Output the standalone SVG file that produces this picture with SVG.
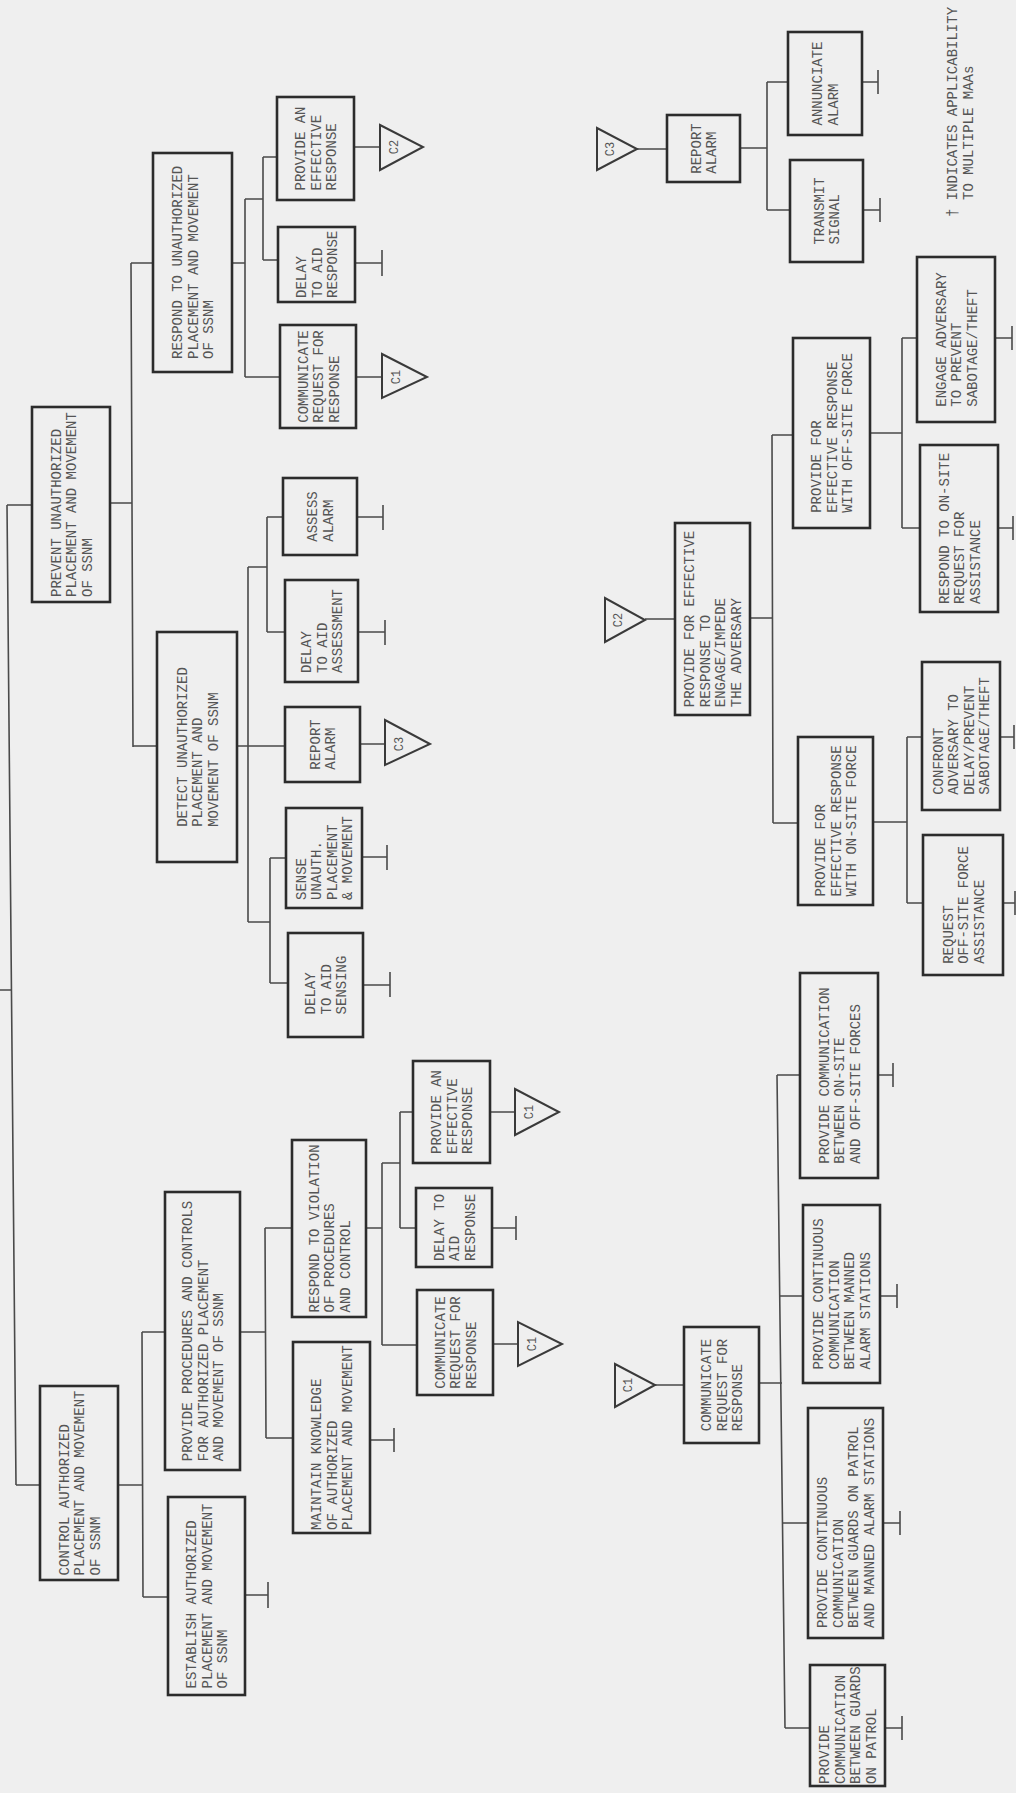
<svg xmlns="http://www.w3.org/2000/svg" width="1016" height="1793" viewBox="0 0 1016 1793">
<style>
.bg{fill:#efefef}
.box{fill:none;stroke:#2c2c2c;stroke-width:2.6}
.c{fill:none;stroke:#4a4a4a;stroke-width:1.6}
.tri{fill:none;stroke:#3a3a3a;stroke-width:2}
text{font-family:"Liberation Mono","DejaVu Sans Mono",monospace;font-size:14px;fill:#555}
.tl{font-size:12px;text-anchor:middle}
</style>
<rect class="bg" x="0" y="0" width="1016" height="1793"/>

<g id="connectors">
<!-- root and main trunk -->
<path class="c" d="M0,990 L11,990 M7,505 L16,1485 M7,505 L32,505 M16,1485 L40,1485"/>
<!-- PREVENT subtree -->
<path class="c" d="M110,503 L132,503 M131,263 L133,747 M131,263 L153,263 M133,746 L157,746"/>
<path class="c" d="M232,263 L245,263 M245,199 L245,377 M245,199 L263,199 M263,157 L263,260 M263,157 L277,157 M263,260 L278,260 M245,377 L280,377"/>
<path class="c" d="M354,147 L380,147 M355,263 L382,263 M382,250 L382,276 M356,377 L382,377"/>
<path class="c" d="M237,746 L285,746 M248,567 L248,922 M248,567 L267,567 M267,517 L267,632 M267,517 L283,517 M267,632 L285,632 M248,922 L270,922 M270,858 L270,983 M270,858 L286,858 M270,983 L288,983"/>
<path class="c" d="M357,517 L383,517 M383,505 L383,530 M358,632 L385,632 M385,620 L385,645 M360,744 L385,744 M362,857 L387,857 M387,845 L387,870 M363,985 L390,985 M390,972 L390,997"/>
<!-- CONTROL subtree -->
<path class="c" d="M118,1485 L143,1485 M142,1332 L143,1597 M142,1332 L165,1332 M143,1597 L168,1597 M245,1595 L268,1595 M268,1582 L268,1608"/>
<path class="c" d="M240,1332 L265,1332 M265,1228 L266,1438 M265,1228 L292,1228 M266,1438 L293,1438 M370,1440 L394,1440 M394,1428 L394,1452"/>
<path class="c" d="M366,1228 L382,1228 M382,1163 L382,1345 M382,1163 L400,1163 M400,1112 L400,1228 M400,1112 L413,1112 M400,1228 L416,1228 M382,1345 L417,1345"/>
<path class="c" d="M490,1112 L515,1112 M492,1228 L516,1228 M516,1216 L516,1240 M493,1344 L518,1344"/>
<!-- C3 -->
<path class="c" d="M637,149 L667,149 M740,148 L767,148 M767,82 L767,210 M767,82 L788,82 M767,210 L790,210 M862,82 L878,82 M878,70 L878,94 M863,210 L880,210 M880,198 L880,222"/>
<!-- C2 -->
<path class="c" d="M645,619 L675,619 M750,618 L773,618 M772,435 L773,823 M772,435 L793,435 M773,823 L798,823"/>
<path class="c" d="M870,433 L902,433 M902,338 L902,528 M902,338 L917,338 M902,528 L920,528 M995,338 L1012,338 M1012,326 L1012,350 M998,528 L1013,528 M1013,516 L1013,540"/>
<path class="c" d="M873,822 L907,822 M907,737 L907,903 M907,737 L922,737 M907,903 L923,903 M1000,737 L1014,737 M1014,725 L1014,749 M1003,903 L1015,903 M1015,891 L1015,915"/>
<!-- C1 -->
<path class="c" d="M655,1385 L684,1385 M759,1383 L782,1383 M777,1075 L785,1728 M777,1075 L800,1075 M780,1296 L803,1296 M782,1523 L808,1523 M785,1728 L810,1728"/>
<path class="c" d="M878,1075 L893,1075 M893,1063 L893,1087 M880,1296 L897,1296 M897,1284 L897,1308 M883,1523 L900,1523 M900,1511 L900,1535 M885,1728 L902,1728 M902,1716 L902,1740"/>
</g>

<g id="offpage-connectors">
<g id="c2-out"><polygon class="tri" points="380,125 380,170 423,147"/><text class="tl" transform="translate(398,147) rotate(-90)">C2</text></g>
<g id="c1-out-a"><polygon class="tri" points="382,354 382,398 427,377"/><text class="tl" transform="translate(400,377) rotate(-90)">C1</text></g>
<g id="c3-out"><polygon class="tri" points="385,720 385,765 430,744"/><text class="tl" transform="translate(403,744) rotate(-90)">C3</text></g>
<g id="c1-out-b"><polygon class="tri" points="515,1089 515,1135 559,1112"/><text class="tl" transform="translate(533,1112) rotate(-90)">C1</text></g>
<g id="c1-out-c"><polygon class="tri" points="518,1322 518,1366 562,1344"/><text class="tl" transform="translate(536,1344) rotate(-90)">C1</text></g>
<g id="c3-in"><polygon class="tri" points="597,128 597,170 637,149"/><text class="tl" transform="translate(614,149) rotate(-90)">C3</text></g>
<g id="c2-in"><polygon class="tri" points="605,598 605,642 645,620"/><text class="tl" transform="translate(622,620) rotate(-90)">C2</text></g>
<g id="c1-in"><polygon class="tri" points="615,1364 615,1407 655,1385"/><text class="tl" transform="translate(632,1385) rotate(-90)">C1</text></g>
</g>

<g id="n-prevent"><rect class="box" x="32" y="407" width="78" height="195"/>
<text transform="translate(60.5,597) rotate(-90)"><tspan x="0" y="0">PREVENT UNAUTHORIZED</tspan><tspan x="0" y="15.5">PLACEMENT AND MOVEMENT</tspan><tspan x="0" y="31">OF SSNM</tspan></text></g>

<g id="n-respond-unauth"><rect class="box" x="153" y="153" width="79" height="219"/>
<text transform="translate(182,359) rotate(-90)"><tspan x="0" y="0">RESPOND TO UNAUTHORIZED</tspan><tspan x="0" y="15.5">PLACEMENT AND MOVEMENT</tspan><tspan x="0" y="31">OF SSNM</tspan></text></g>

<g id="n-provide-eff-1"><rect class="box" x="277" y="97" width="77" height="103"/>
<text transform="translate(305,190.5) rotate(-90)"><tspan x="0" y="0">PROVIDE AN</tspan><tspan x="0" y="15.5">EFFECTIVE</tspan><tspan x="0" y="31">RESPONSE</tspan></text></g>

<g id="n-delay-resp-1"><rect class="box" x="278" y="227" width="77" height="75"/>
<text transform="translate(306,298) rotate(-90)"><tspan x="0" y="0">DELAY</tspan><tspan x="0" y="15.5">TO AID</tspan><tspan x="0" y="31">RESPONSE</tspan></text></g>

<g id="n-communicate-1"><rect class="box" x="280" y="325" width="76" height="103"/>
<text transform="translate(307.5,422.7) rotate(-90)"><tspan x="0" y="0">COMMUNICATE</tspan><tspan x="0" y="15.5">REQUEST FOR</tspan><tspan x="0" y="31">RESPONSE</tspan></text></g>

<g id="n-detect"><rect class="box" x="157" y="632" width="80" height="230"/>
<text transform="translate(186.5,826.8) rotate(-90)"><tspan x="0" y="0">DETECT UNAUTHORIZED</tspan><tspan x="0" y="15.5">PLACEMENT AND</tspan><tspan x="0" y="31">MOVEMENT OF SSNM</tspan></text></g>

<g id="n-assess"><rect class="box" x="283" y="478" width="74" height="77"/>
<text transform="translate(317.3,541.7) rotate(-90)"><tspan x="0" y="0">ASSESS</tspan><tspan x="0" y="15.5">ALARM</tspan></text></g>

<g id="n-delay-assess"><rect class="box" x="285" y="580" width="73" height="102"/>
<text transform="translate(311,673) rotate(-90)"><tspan x="0" y="0">DELAY</tspan><tspan x="0" y="15.5">TO AID</tspan><tspan x="0" y="31">ASSESSMENT</tspan></text></g>

<g id="n-report-1"><rect class="box" x="285" y="707" width="75" height="75"/>
<text transform="translate(319.8,769.7) rotate(-90)"><tspan x="0" y="0">REPORT</tspan><tspan x="0" y="15.5">ALARM</tspan></text></g>

<g id="n-sense"><rect class="box" x="286" y="808" width="76" height="100"/>
<text transform="translate(305.8,900) rotate(-90)"><tspan x="0" y="0">SENSE</tspan><tspan x="0" y="15.5">UNAUTH.</tspan><tspan x="0" y="31">PLACEMENT</tspan><tspan x="0" y="46.5">&amp; MOVEMENT</tspan></text></g>

<g id="n-delay-sensing"><rect class="box" x="288" y="933" width="75" height="104"/>
<text transform="translate(315,1014.4) rotate(-90)"><tspan x="0" y="0">DELAY</tspan><tspan x="0" y="15.5">TO AID</tspan><tspan x="0" y="31">SENSING</tspan></text></g>

<g id="n-control"><rect class="box" x="40" y="1386" width="78" height="194"/>
<text transform="translate(68.5,1575.4) rotate(-90)"><tspan x="0" y="0">CONTROL AUTHORIZED</tspan><tspan x="0" y="15.5">PLACEMENT AND MOVEMENT</tspan><tspan x="0" y="31">OF SSNM</tspan></text></g>

<g id="n-procedures"><rect class="box" x="165" y="1192" width="75" height="278"/>
<text transform="translate(192,1461.2) rotate(-90)"><tspan x="0" y="0">PROVIDE PROCEDURES AND CONTROLS</tspan><tspan x="0" y="15.5">FOR AUTHORIZED PLACEMENT</tspan><tspan x="0" y="31">AND MOVEMENT OF SSNM</tspan></text></g>

<g id="n-establish"><rect class="box" x="168" y="1497" width="77" height="198"/>
<text transform="translate(196,1688.4) rotate(-90)"><tspan x="0" y="0">ESTABLISH AUTHORIZED</tspan><tspan x="0" y="15.5">PLACEMENT AND MOVEMENT</tspan><tspan x="0" y="31">OF SSNM</tspan></text></g>

<g id="n-respond-violation"><rect class="box" x="292" y="1140" width="74" height="177"/>
<text transform="translate(318.5,1312.5) rotate(-90)"><tspan x="0" y="0">RESPOND TO VIOLATION</tspan><tspan x="0" y="15.5">OF PROCEDURES</tspan><tspan x="0" y="31">AND CONTROL</tspan></text></g>

<g id="n-maintain"><rect class="box" x="293" y="1342" width="77" height="191"/>
<text transform="translate(321,1529.9) rotate(-90)"><tspan x="0" y="0">MAINTAIN KNOWLEDGE</tspan><tspan x="0" y="15.5">OF AUTHORIZED</tspan><tspan x="0" y="31">PLACEMENT AND MOVEMENT</tspan></text></g>

<g id="n-provide-eff-2"><rect class="box" x="413" y="1061" width="77" height="102"/>
<text transform="translate(441,1154) rotate(-90)"><tspan x="0" y="0">PROVIDE AN</tspan><tspan x="0" y="15.5">EFFECTIVE</tspan><tspan x="0" y="31">RESPONSE</tspan></text></g>

<g id="n-delay-resp-2"><rect class="box" x="416" y="1188" width="76" height="79"/>
<text transform="translate(443.5,1261.1) rotate(-90)"><tspan x="0" y="0">DELAY TO</tspan><tspan x="0" y="15.5">AID</tspan><tspan x="0" y="31">RESPONSE</tspan></text></g>

<g id="n-communicate-2"><rect class="box" x="417" y="1290" width="76" height="105"/>
<text transform="translate(444.5,1388.7) rotate(-90)"><tspan x="0" y="0">COMMUNICATE</tspan><tspan x="0" y="15.5">REQUEST FOR</tspan><tspan x="0" y="31">RESPONSE</tspan></text></g>

<g id="n-report-2"><rect class="box" x="667" y="115" width="73" height="67"/>
<text transform="translate(700.8,173.7) rotate(-90)"><tspan x="0" y="0">REPORT</tspan><tspan x="0" y="15.5">ALARM</tspan></text></g>

<g id="n-annunciate"><rect class="box" x="788" y="32" width="74" height="103"/>
<text transform="translate(822.3,125.5) rotate(-90)"><tspan x="0" y="0">ANNUNCIATE</tspan><tspan x="0" y="15.5">ALARM</tspan></text></g>

<g id="n-transmit"><rect class="box" x="790" y="160" width="73" height="102"/>
<text transform="translate(823.8,244.6) rotate(-90)"><tspan x="0" y="0">TRANSMIT</tspan><tspan x="0" y="15.5">SIGNAL</tspan></text></g>

<g id="n-engage-impede"><rect class="box" x="675" y="523" width="75" height="192"/>
<text transform="translate(694.3,707.2) rotate(-90)"><tspan x="0" y="0">PROVIDE FOR EFFECTIVE</tspan><tspan x="0" y="15.5">RESPONSE TO</tspan><tspan x="0" y="31">ENGAGE/IMPEDE</tspan><tspan x="0" y="46.5">THE ADVERSARY</tspan></text></g>

<g id="n-offsite-force"><rect class="box" x="793" y="338" width="77" height="190"/>
<text transform="translate(821,512.8) rotate(-90)"><tspan x="0" y="0">PROVIDE FOR</tspan><tspan x="0" y="15.5">EFFECTIVE RESPONSE</tspan><tspan x="0" y="31">WITH OFF-SITE FORCE</tspan></text></g>

<g id="n-onsite-force"><rect class="box" x="798" y="737" width="75" height="168"/>
<text transform="translate(825,896.6) rotate(-90)"><tspan x="0" y="0">PROVIDE FOR</tspan><tspan x="0" y="15.5">EFFECTIVE RESPONSE</tspan><tspan x="0" y="31">WITH ON-SITE FORCE</tspan></text></g>

<g id="n-engage-adversary"><rect class="box" x="917" y="257" width="78" height="165"/>
<text transform="translate(945.5,406.7) rotate(-90)"><tspan x="0" y="0">ENGAGE ADVERSARY</tspan><tspan x="0" y="15.5">TO PREVENT</tspan><tspan x="0" y="31">SABOTAGE/THEFT</tspan></text></g>

<g id="n-respond-onsite"><rect class="box" x="920" y="445" width="78" height="167"/>
<text transform="translate(948.5,604.1) rotate(-90)"><tspan x="0" y="0">RESPOND TO ON-SITE</tspan><tspan x="0" y="15.5">REQUEST FOR</tspan><tspan x="0" y="31">ASSISTANCE</tspan></text></g>

<g id="n-confront"><rect class="box" x="922" y="662" width="78" height="148"/>
<text transform="translate(942.8,794.8) rotate(-90)"><tspan x="0" y="0">CONFRONT</tspan><tspan x="0" y="15.5">ADVERSARY TO</tspan><tspan x="0" y="31">DELAY/PREVENT</tspan><tspan x="0" y="46.5">SABOTAGE/THEFT</tspan></text></g>

<g id="n-request-offsite"><rect class="box" x="923" y="835" width="80" height="140"/>
<text transform="translate(952.5,963.8) rotate(-90)"><tspan x="0" y="0">REQUEST</tspan><tspan x="0" y="15.5">OFF-SITE FORCE</tspan><tspan x="0" y="31">ASSISTANCE</tspan></text></g>

<g id="n-communicate-3"><rect class="box" x="684" y="1327" width="75" height="116"/>
<text transform="translate(711,1431.2) rotate(-90)"><tspan x="0" y="0">COMMUNICATE</tspan><tspan x="0" y="15.5">REQUEST FOR</tspan><tspan x="0" y="31">RESPONSE</tspan></text></g>

<g id="n-comm-forces"><rect class="box" x="800" y="973" width="78" height="205"/>
<text transform="translate(828.5,1163.7) rotate(-90)"><tspan x="0" y="0">PROVIDE COMMUNICATION</tspan><tspan x="0" y="15.5">BETWEEN ON-SITE</tspan><tspan x="0" y="31">AND OFF-SITE FORCES</tspan></text></g>

<g id="n-comm-stations"><rect class="box" x="803" y="1205" width="77" height="178"/>
<text transform="translate(823.3,1369.6) rotate(-90)"><tspan x="0" y="0">PROVIDE CONTINUOUS</tspan><tspan x="0" y="15.5">COMMUNICATION</tspan><tspan x="0" y="31">BETWEEN MANNED</tspan><tspan x="0" y="46.5">ALARM STATIONS</tspan></text></g>

<g id="n-comm-guards-stations"><rect class="box" x="808" y="1408" width="75" height="230"/>
<text transform="translate(827.3,1628) rotate(-90)"><tspan x="0" y="0">PROVIDE CONTINUOUS</tspan><tspan x="0" y="15.5">COMMUNICATION</tspan><tspan x="0" y="31">BETWEEN GUARDS ON PATROL</tspan><tspan x="0" y="46.5">AND MANNED ALARM STATIONS</tspan></text></g>

<g id="n-comm-guards"><rect class="box" x="810" y="1665" width="75" height="121"/>
<text transform="translate(829.3,1784) rotate(-90)"><tspan x="0" y="0">PROVIDE</tspan><tspan x="0" y="15.5">COMMUNICATION</tspan><tspan x="0" y="31">BETWEEN GUARDS</tspan><tspan x="0" y="46.5">ON PATROL</tspan></text></g>

<g id="note">
<text transform="translate(957,217) rotate(-90)"><tspan x="0" y="0">† INDICATES APPLICABILITY</tspan><tspan x="17" y="16">TO MULTIPLE MAAs</tspan></text>
</g>
</svg>
